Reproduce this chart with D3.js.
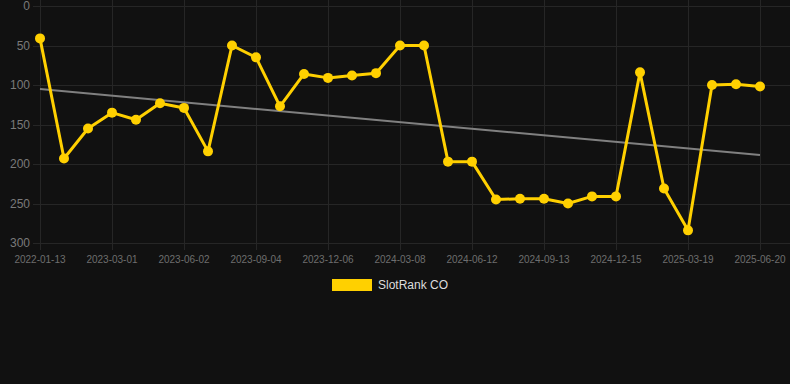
<!DOCTYPE html>
<html>
<head>
<meta charset="utf-8">
<script src="https://cdn.jsdelivr.net/npm/d3@7"></script>
<style>
  html, body { margin: 0; padding: 0; background: #111111; }
  svg { display: block; font-family: Arial, "Liberation Sans", sans-serif; }
</style>
</head>
<body>
<svg id="chart" width="790" height="384"></svg>
<script>
// categories (one per point); only every 3rd one is shown on the axis
const dates = [
  "2022-01-13", "2022-11-27", "2023-01-28", "2023-03-01", "2023-04-01", "2023-05-02",
  "2023-06-02", "2023-07-03", "2023-08-03", "2023-09-04", "2023-10-05", "2023-11-05",
  "2023-12-06", "2024-01-06", "2024-02-06", "2024-03-08", "2024-04-09", "2024-05-11",
  "2024-06-12", "2024-07-13", "2024-08-13", "2024-09-13", "2024-10-14", "2024-11-14",
  "2024-12-15", "2025-01-15", "2025-02-16", "2025-03-19", "2025-04-19", "2025-05-20",
  "2025-06-20"
];
const rank = [
  41, 193, 155, 135, 144, 123, 129, 184, 50, 65, 127, 86, 91, 88, 85, 50, 50, 197,
  197, 245, 244, 244, 250, 241, 241, 84, 231, 284, 100, 99, 102
];
const yTicks = [0, 50, 100, 150, 200, 250, 300];
const seriesName = "SlotRank CO";

let svg = d3.select('#chart');
let chart_width = 790;
let plot_left = 40, plot_right = 760, plot_top = 6, plot_bottom = 243;

let x = d3.scalePoint().domain(dates).range([plot_left, plot_right]);
let y = d3.scaleLinear().domain([0, 300]).range([plot_top, plot_bottom]);

let tickDates = dates.filter((d, i) => i % 3 == 0);

// grid
let grid = svg.append('g').attr('class', 'grid');
grid.selectAll('.hgrid').data(yTicks).enter().append('line')
  .attr('x1', plot_left - 7).attr('x2', chart_width)
  .attr('y1', d => Math.round(y(d)) + 0.5).attr('y2', d => Math.round(y(d)) + 0.5)
  .attr('stroke', '#262626').attr('stroke-width', 1);
grid.selectAll('.vgrid').data(tickDates).enter().append('line')
  .attr('x1', d => x(d) + 0.5).attr('x2', d => x(d) + 0.5)
  .attr('y1', 0).attr('y2', plot_bottom + 7)
  .attr('stroke', '#262626').attr('stroke-width', 1);

// y labels
svg.append('g').selectAll('text').data(yTicks).enter().append('text')
  .attr('x', 30).attr('y', d => y(d)).attr('dy', '0.35em')
  .attr('text-anchor', 'end').attr('fill', '#7a7a7a').attr('font-size', 12)
  .text(d => d);

// x labels
svg.append('g').selectAll('text').data(tickDates).enter().append('text')
  .attr('x', d => x(d)).attr('y', 263)
  .attr('text-anchor', 'middle').attr('fill', '#6e6e6e').attr('font-size', 10)
  .text(d => d);

// trend line (least squares over point index)
let n = rank.length;
let mx = d3.mean(d3.range(n)), my = d3.mean(rank);
let sxy = d3.sum(rank, (v, i) => (i - mx) * (v - my));
let sxx = d3.sum(d3.range(n), i => (i - mx) * (i - mx));
let slope = sxy / sxx, icpt = my - slope * mx;
svg.append('line')
  .attr('x1', x(dates[0])).attr('y1', y(icpt))
  .attr('x2', x(dates[n - 1])).attr('y2', y(icpt + slope * (n - 1)))
  .attr('stroke', '#808080').attr('stroke-width', 2);

// series
let pts = dates.map((d, i) => ({date: d, v: rank[i]}));
svg.append('path').datum(pts)
  .attr('fill', 'none').attr('stroke', '#ffd000').attr('stroke-width', 3)
  .attr('stroke-linejoin', 'round')
  .attr('d', d3.line().x(d => x(d.date)).y(d => y(d.v)));
svg.append('g').selectAll('circle').data(pts).enter().append('circle')
  .attr('cx', d => x(d.date)).attr('cy', d => y(d.v)).attr('r', 5)
  .attr('fill', '#ffd000');

// legend
let legend = svg.append('g').attr('transform', 'translate(332,279)');
legend.append('rect').attr('width', 40).attr('height', 12).attr('fill', '#ffd000');
legend.append('text').attr('x', 46).attr('y', 6).attr('dy', '0.35em')
  .attr('fill', '#dddddd').attr('font-size', 12).text(seriesName);
</script>
</body>
</html>
